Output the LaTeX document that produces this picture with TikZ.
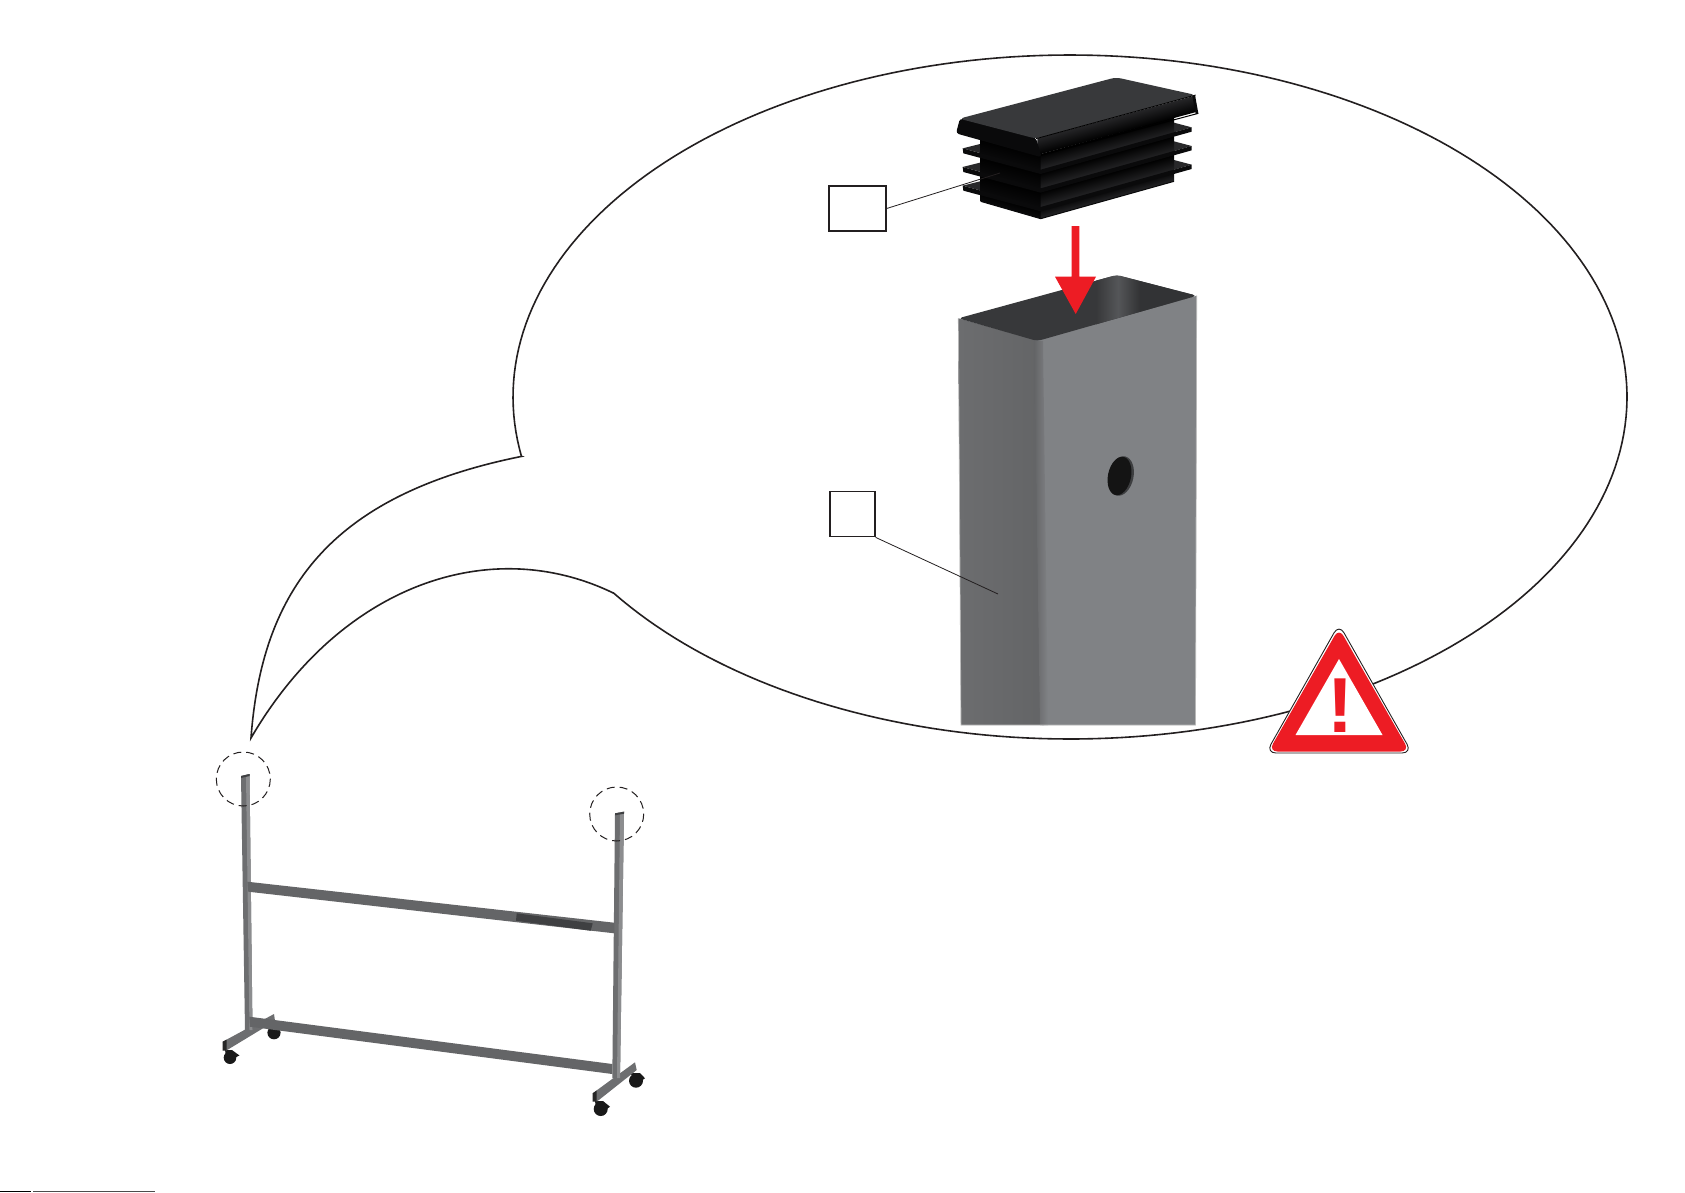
\documentclass[tikz,border=0pt]{standalone}
\usepackage{fontspec}
\setmainfont{Liberation Sans}
\definecolor{signred}{HTML}{ED1C24}
\definecolor{lineblack}{HTML}{231F20}
\definecolor{tubeleft}{HTML}{6C6D6F}
\definecolor{tuberight}{HTML}{808285}
\definecolor{tubein}{HTML}{3D3E40}
\definecolor{capdark}{HTML}{0A0A0B}
\definecolor{capmid}{HTML}{252527}
\definecolor{captop}{HTML}{38393B}
\definecolor{framemid}{HTML}{6D6E70}
\definecolor{framelight}{HTML}{8C8D8F}
\definecolor{framedark}{HTML}{3F4042}
\tikzset{
  bubbleline/.style={draw=lineblack,line width=1.6pt,line join=miter},
  labelbox/.style={draw=lineblack,line width=1.3pt,fill=white,inner sep=0pt},
  leader/.style={draw=lineblack,line width=0.8pt},
  zoomring/.style={draw=lineblack,line width=1pt,dash pattern=on 8pt off 5pt},
  wheelpart/.style={fill=black!90},
}
% a slanted band shaded across its thickness (plug scope only: origin 950,70, unit 1/3)
\newcommand{\slantband}[7]{%
  \pgfmathsetmacro\mslope{(#4-#2)/(#3-#1)}%
  \pgfmathsetmacro\aslant{0-\mslope}%
  \pgfmathsetmacro\ytop{#2-\mslope*#1-2850*\mslope}%
  \pgfmathsetmacro\ybot{\ytop+#5}%
  \begin{scope}[transform canvas={yslant=\aslant}]
    \shade[top color=#6,bottom color=#7] (#1,\ytop) rectangle (#3,\ybot);
  \end{scope}%
}
\begin{document}
\begin{tikzpicture}[x=1pt,y=-1pt]
\useasboundingbox (0,0) rectangle (1685,1192);
\fill[white] (0,0) rectangle (1685,1192);

% speech bubble
\coordinate (tip) at (251,738);
\coordinate (cornerA) at (521.5,456.4);
\coordinate (cornerB) at (613.7,593.2);
\draw[bubbleline] (tip) .. controls (262,590) and (330,495) .. (cornerA)
  -- plot[domain=170:505,samples=240,variable=\t] ({1070+557*cos(\t)},{397+342*sin(\t)})
  -- (cornerB) .. controls (490,533) and (340,585) .. (tip) -- cycle;

% tube
\shade[left color=tubeleft,right color=tubeleft!92!black]
  (958.3,318.3) -- (1040,341) -- (1044,725) -- (961,725) -- cycle;
\fill[tuberight] (1036,340) -- (1196.7,295.7) -- (1195.5,725) -- (1042,725) -- cycle;
\shade[left color=tubeleft!92!black,right color=tuberight]
  (1034,340) -- (1043,341) -- (1048,725) -- (1040,725) -- cycle;
\draw[black!28,line width=0.7pt] (958.3,318.3) -- (961,725) -- (1195.5,725) -- (1196.7,295.7);
% tube opening
\fill[tubein!90!black,rounded corners=4pt] (958.3,318.3) -- (1116.7,275) -- (1196.7,295.7) -- (1037.3,341) -- cycle;
\begin{scope}
  \clip[rounded corners=4pt] (958.3,318.3) -- (1116.7,275) -- (1196.7,295.7) -- (1037.3,341) -- cycle;
  \shade[left color=tubein!90!black,right color=tubein!65!tuberight] (1096,265) rectangle (1118,330);
  \shade[left color=tubein!65!tuberight,right color=tubein!82!black] (1118,265) rectangle (1140,330);
  \fill[tubein!82!black] (1140,265) rectangle (1200,330);
\end{scope}

% plug
\begin{scope}[shift={(950,70)},x=0.33333pt,y=-0.33333pt]
  % lowest body part
  \slantband{272}{420}{672}{308}{26}{capdark}{capmid}
  \slantband{92}{368}{272}{420}{26}{black}{capdark}
  \draw[capdark,line width=1pt] (92,394) -- (272,446) -- (672,334);
  \foreach \dy in {112,56,0}{
    \begin{scope}[shift={(0,\dy)}]
      % fin ends
      \fill[capmid!85!captop] (672,158) -- (725,172) -- (672,187) -- cycle;
      \fill[capmid!85!captop] (38,235) -- (90,222) -- (90,249) -- cycle;
      % body part above this fin
      \slantband{272}{252}{672}{142}{50}{black}{capmid}
      \slantband{90}{205}{272}{252}{50}{black}{capdark}
      % fin edge
      \fill[capdark] (725,172) -- (725,185) -- (272,312) -- (40,250) -- (38,235) -- (272,299) -- cycle;
    \end{scope}
  }
  % flange
  \slantband{262}{205}{735}{77}{50}{capmid}{black}
  \draw[black,line width=1pt] (272,256) -- (745,130);
  \fill[capdark] (735,75) -- (745,130) -- (737,133) -- (727,78) -- cycle;
  \fill[capdark,rounded corners=3pt] (18,190) -- (30,145) -- (258,204) -- (275,262) -- cycle;
  % top
  \fill[captop,rounded corners=5pt] (28,146) -- (498,22) -- (737,75) -- (258,206) -- cycle;
  \draw[black,line width=0.8pt] (258,206) -- (737,75);
\end{scope}

% leaders and boxes
\node[labelbox,minimum width=57pt,minimum height=45pt] (boxA) at (857.5,208.5) {};
\node[labelbox,minimum width=45pt,minimum height=45.5pt] (boxB) at (852.5,514) {};
\coordinate (endA) at (1000,173);
\coordinate (endB) at (998,594);
\draw[leader] (boxA.east) -- (endA);
\draw[leader] (boxB.south east) -- (endB);

% arrow
\fill[signred] (1071.7,226) -- (1079.3,226) -- (1079.3,276.7) -- (1096,276.7) -- (1075.7,314) -- (1055,276.7) -- (1071.7,276.7) -- cycle;

% hole
\fill[tubein,rotate around={-12:(1121,476)}] (1121,476) ellipse [x radius=12.5,y radius=20];
\fill[black!92,rotate around={-12:(1119.5,476)}] (1119.5,476) ellipse [x radius=11.5,y radius=19.5];

% warning sign
\draw[draw=lineblack,line width=0.9pt,fill=white,rounded corners=10pt] (1339,624) -- (1412,753) -- (1266,753) -- cycle;
\fill[signred,rounded corners=9pt] (1339,628) -- (1409.5,751.5) -- (1268.5,751.5) -- cycle;
\fill[white] (1339,659) -- (1382.5,735) -- (1295.5,735) -- cycle;
\node[font=\fontsize{78pt}{78pt}\selectfont\bfseries,text=signred,inner sep=0pt,anchor=base] (bang) at (1340,732) {!};

% stand: wheels under the feet
\fill[wheelpart] (274,1032.7) circle (6.6);
\fill[wheelpart] (230,1057.7) circle (6.3);
\fill[wheelpart] (225,1050) -- (232,1050) -- (239.5,1055.5) -- (234,1058) -- (226,1056) -- cycle;
\fill[wheelpart] (636,1080.7) circle (7);
\fill[wheelpart] (630,1073) -- (640,1073) -- (645,1078.3) -- (638,1083) -- cycle;
\fill[wheelpart] (600.7,1109) circle (7);
\fill[wheelpart] (595,1101) -- (603,1101) -- (610,1106.7) -- (604,1111) -- (596,1108) -- cycle;
% feet
\fill[framemid] (222.7,1041.7) -- (274,1014) -- (275,1021) -- (226,1050.7) -- cycle;
\fill[black!85] (222.7,1041.7) -- (226.5,1039.7) -- (226.5,1050.7) -- (222.7,1050.7) -- cycle;
\fill[framemid] (592.7,1093.3) -- (635,1062.3) -- (636.7,1070) -- (596.7,1101.7) -- cycle;
\fill[black!85] (592.7,1093.3) -- (596.7,1090.4) -- (596.7,1101.7) -- (592.7,1101.7) -- cycle;
% posts
\fill[framemid] (241,776) -- (249.5,774) -- (252.5,1030) -- (245,1030) -- cycle;
\fill[framelight] (246,775) -- (249.5,774) -- (252.5,1030) -- (249.5,1030) -- cycle;
\fill[framedark] (241,776) -- (249.5,774) -- (249.5,776) -- (241,778) -- cycle;
\fill[framemid] (615,813.3) -- (624,811.7) -- (620,1078) -- (612.3,1078) -- cycle;
\fill[framelight] (620,812.5) -- (624,811.7) -- (620,1078) -- (617,1078) -- cycle;
\fill[framedark] (615,813.3) -- (624,811.7) -- (624,813.7) -- (615,815.3) -- cycle;
% bars
\fill[framemid!92!black] (247.3,881.7) -- (614.3,922.7) -- (614.3,933.3) -- (248.3,891.7) -- cycle;
\fill[framedark] (516.7,913.3) -- (592.7,923.3) -- (590.7,930.7) -- (516,920.7) -- cycle;
\fill[framemid!92!black] (249.3,1016.7) -- (612.3,1064) -- (612.3,1074) -- (250,1026.7) -- cycle;

% rings
\draw[zoomring] (243.3,779) circle (27);
\draw[zoomring] (616.7,814) circle (27);

% edge marks at the foot of the page
\fill[black] (0,1191) rectangle (31,1192);
\fill[black!70] (33,1191) rectangle (155,1192);
\end{tikzpicture}
\end{document}
